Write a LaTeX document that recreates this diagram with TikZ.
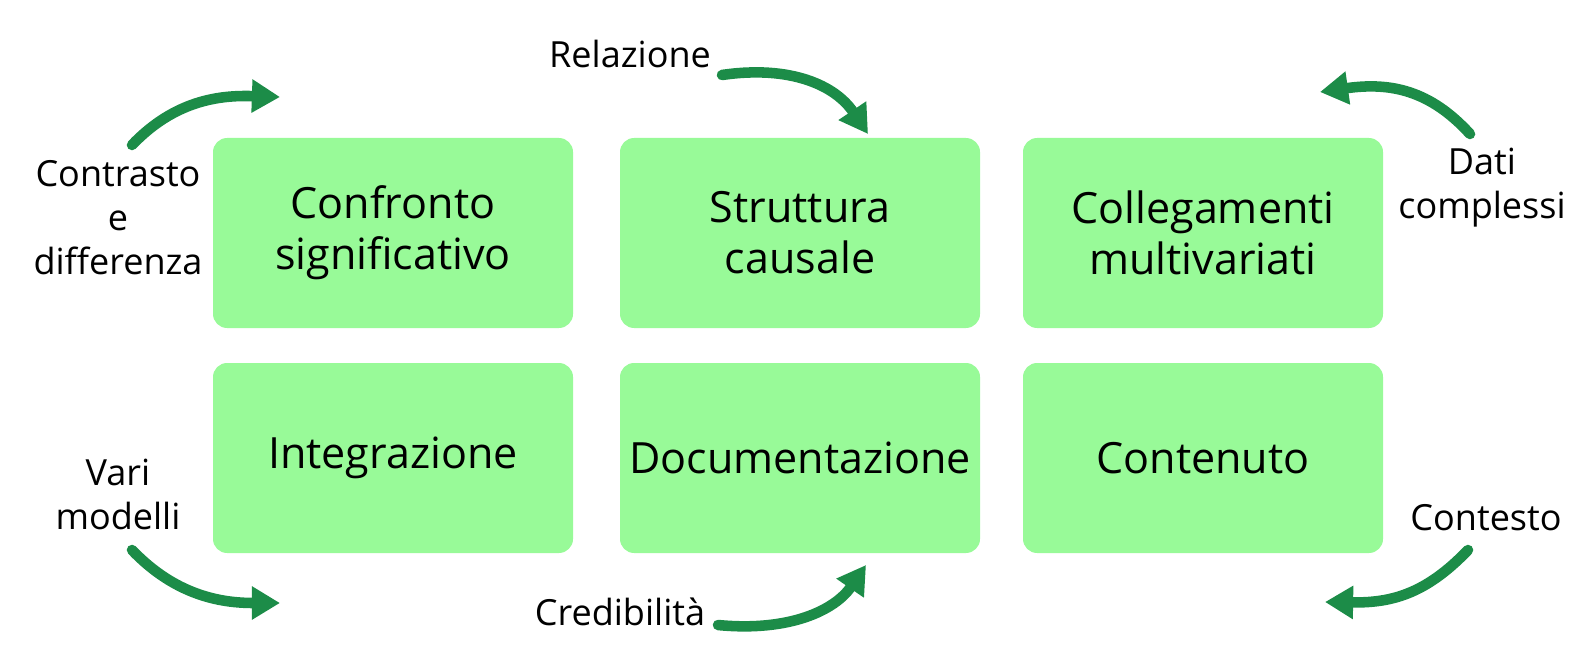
\documentclass[tikz,border=0pt]{standalone}
\usepackage{fontspec}
\setmainfont{Open Sans}
\usetikzlibrary{positioning,arrows.meta}
\definecolor{boxgreen}{RGB}{152,250,152}
\definecolor{arrowgreen}{RGB}{28,140,72}
\begin{document}
\begin{tikzpicture}[x=0.02cm,y=-0.02cm,
				box/.style={fill=boxgreen,rounded corners=8pt,minimum width=360*0.02cm,minimum height=190*0.02cm,align=center,font=\fontsize{24.5}{29}\selectfont,inner sep=0pt},
				lbl/.style={align=center,font=\fontsize{20.5}{25}\selectfont\addfontfeatures{Weight=300},inner sep=0pt},
				flow/.style={draw=arrowgreen,line width=6pt,line cap=round,-{Triangle[length=16pt,width=18pt]}}]
				\useasboundingbox (0,0) rectangle (1588,672);
				\node[box] (A) at (393,233) {Confronto\\significativo};
				\node[box] (B) at (800,233) {Struttura\\causale};
				\node[box] (C) at (1203,233) {Collegamenti\\multivariati};
				\node[box] (D) at (393,458) {Integrazione};
				\node[box] (E) at (800,458) {Documentazione};
				\node[box] (F) at (1203,458) {Contenuto};
				\node[lbl] (lA) at (118,218) {Contrasto\\e\\differenza};
				\node[lbl] (lB) at (630,54) {Relazione};
				\node[lbl] (lC) at (1482,188) {Dati\\complessi};
				\node[lbl] (lD) at (118,494) {Vari\\modelli};
				\node[lbl] (lE) at (620,612) {Credibilità};
				\node[lbl] (lF) at (1486,518) {Contesto};
				% curved arrows
				\coordinate (a1) at (132,145); \coordinate (a2) at (280,97);
				\coordinate (b1) at (722,75);  \coordinate (b2) at (868,134);
				\coordinate (c1) at (1470,134); \coordinate (c2) at (1320,92);
				\coordinate (d1) at (132,550); \coordinate (d2) at (280,603);
				\coordinate (e1) at (718,625); \coordinate (e2) at (866,565);
				\coordinate (f1) at (1468,550); \coordinate (f2) at (1325,602);
				\draw[flow] (a1) .. controls (175,100) and (220,95) .. (a2);
				\draw[flow] (b1) .. controls (790,65) and (835,85) .. (b2);
				\draw[flow] (c1) .. controls (1430,90) and (1390,82) .. (c2);
				\draw[flow] (d1) .. controls (175,595) and (220,603) .. (d2);
				\draw[flow] (e1) .. controls (790,632) and (835,610) .. (e2);
				\draw[flow] (f1) .. controls (1425,595) and (1390,603) .. (f2);
\end{tikzpicture}
\end{document}
